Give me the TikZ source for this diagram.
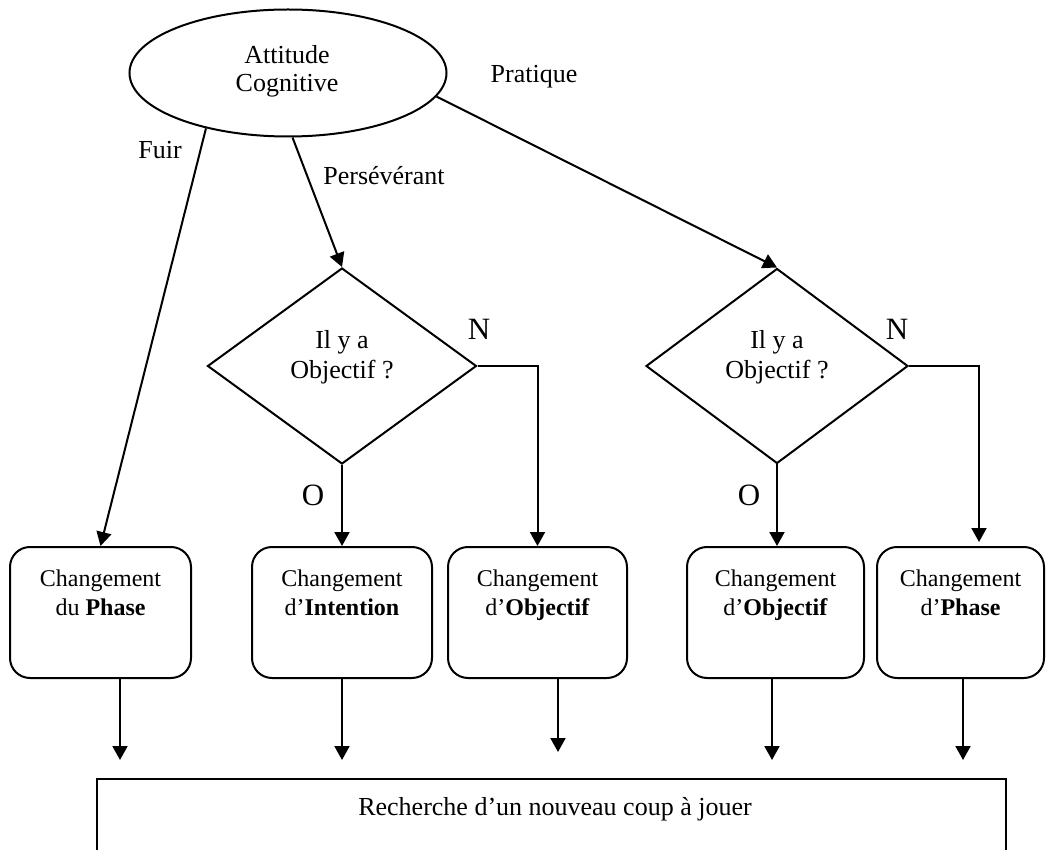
\documentclass[tikz,border=0pt]{standalone}
\usepackage{fontspec}
\setmainfont{Liberation Serif}
\usetikzlibrary{shapes.geometric,arrows.meta,calc}
\begin{document}
\begin{tikzpicture}[x=0.5pt,y=-0.5pt,
  line width=1pt,
  every node/.style={font=\fontsize{13}{15}\selectfont, inner sep=0pt},
  arr/.style={-{Triangle[length=7pt,width=7.5pt]}},
  cbox/.style={draw, rounded corners=10pt, minimum height=65.5pt},
  txt/.style={align=center, anchor=north},
  btxt/.style={align=center, anchor=north, font=\fontsize{12}{14.5}\selectfont},
  lbl/.style={anchor=base},
  big/.style={anchor=base, font=\fontsize{15.5}{18}\selectfont}]
\useasboundingbox (0,0) rectangle (1056,850);
\clip (0,0) rectangle (1056,850);

% ellipse
\node[ellipse, draw, minimum width=158.5pt, minimum height=63.5pt] (ell) at (288,73) {};
\node[txt, font=\fontsize{13}{14.3}\selectfont] (ellt) at (287,44) {Attitude\\Cognitive};

% diamonds
\node[diamond, draw, minimum width=134.5pt, minimum height=98pt] (d1) at (342,366) {};
\node[txt] (d1t) at (342,329) {Il y a\\Objectif ?};
\node[diamond, draw, minimum width=131pt, minimum height=97.5pt] (d2) at (777,366) {};
\node[txt] (d2t) at (777,329) {Il y a\\Objectif ?};

% boxes
\node[cbox, minimum width=90.5pt] (b1) at (100.5,612.5) {};
\node[cbox, minimum width=90pt]   (b2) at (342,612.5) {};
\node[cbox, minimum width=89.5pt] (b3) at (537.5,612.5) {};
\node[cbox, minimum width=88.5pt] (b4) at (775.5,612.5) {};
\node[cbox, minimum width=83.5pt] (b5) at (960.5,612.5) {};
\node[btxt] (b1t) at (100.5,569) {Changement\\du \textbf{Phase}};
\node[btxt] (b2t) at (342,569) {Changement\\d’\textbf{Intention}};
\node[btxt] (b3t) at (537.5,569) {Changement\\d’\textbf{Objectif}};
\node[btxt] (b4t) at (775.5,569) {Changement\\d’\textbf{Objectif}};
\node[btxt] (b5t) at (960.5,569) {Changement\\d’\textbf{Phase}};

% bottom box
\node[draw, minimum width=454.5pt, minimum height=60.5pt] (bot) at (551.5,839.5) {};
\node[lbl] (bott) at (555,815) {Recherche d’un nouveau coup à jouer};

% labels
\node[lbl] (lfuir) at (160,159) {Fuir};
\node[lbl] (lpers) at (384,185) {Persévérant};
\node[lbl] (lprat) at (534,83) {Pratique};
\node[big] (ln1) at (479,340) {N};
\node[big] (ln2) at (897,340) {N};
\node[big] (lo1) at (313,505) {O};
\node[big] (lo2) at (749,505) {O};

% connectors from ellipse
\draw[arr] (ell.214) -- (b1.north);
\draw[arr] (ell.-86) -- (d1.north);
\draw[arr] (ell.-9) -- (d2.north);

% diamond 1
\draw[arr] (d1.south) -- (d1.south |- b2.north);
\draw[arr] (d1.east) -| (b3.north);

% diamond 2
\coordinate (n2) at (979,542);
\draw[arr] (d2.south) -- (d2.south |- b4.north);
\draw[arr] (d2.east) -| (n2);

% arrows to bottom
\coordinate (e1) at (120,760);
\coordinate (e2) at (342,760);
\coordinate (e3) at (558,752);
\coordinate (e4) at (772,760);
\coordinate (e5) at (963,760);
\draw[arr] (e1 |- b1.south) -- (e1);
\draw[arr] (e2 |- b2.south) -- (e2);
\draw[arr] (e3 |- b3.south) -- (e3);
\draw[arr] (e4 |- b4.south) -- (e4);
\draw[arr] (e5 |- b5.south) -- (e5);
\end{tikzpicture}
\end{document}
